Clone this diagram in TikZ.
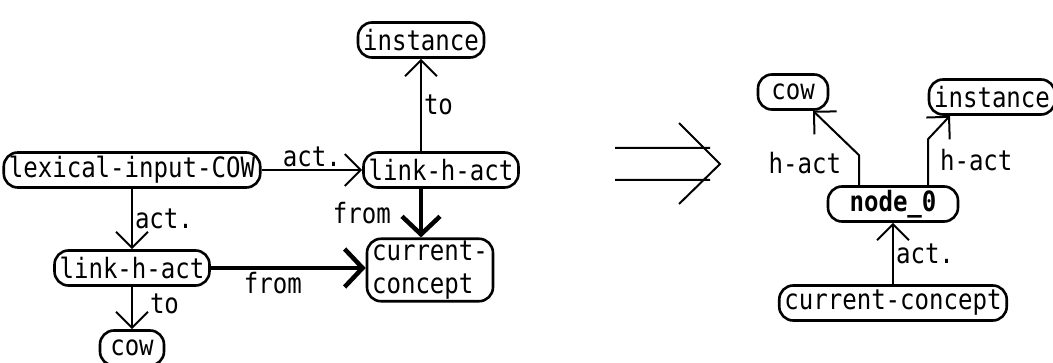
\documentclass[tikz,border=0pt]{standalone}
\usepackage{fontspec}
\newfontfamily\graphfont[FakeStretch=0.86]{DejaVu Sans Mono}
\usetikzlibrary{shapes,arrows.meta,positioning,calc}
\newcommand\labelfont{\graphfont\fontsize{28}{33}\selectfont}
\tikzset{
    block/.style={rectangle, draw, rounded corners=14pt, minimum height=35pt, inner xsep=5pt, inner ysep=2pt, font=\labelfont, line width=2.6pt},
    line/.style={draw, -{Straight Barb[length=16pt, width=32pt]}, line width=2pt},
    heavy/.style={draw, -{Straight Barb[length=18pt, width=38pt]}, line width=4.5pt},
    lbl/.style={font=\labelfont, inner sep=2pt}
}
\begin{document}
\begin{tikzpicture}[x=1pt, y=-1pt, node distance=100pt]
    \useasboundingbox (0,0) rectangle (1053,363);

    % before: left network
    \node [block] (lexical) at (132,170) {lexical-input-COW};
    \node [block, right of=lexical, node distance=309pt] (linkA) {link-h-act};
    \node [block] (instA) at (421,40) {instance};
    \node [block, align=left] (curA) at (430,270) {current-\\concept};
    \node [block, below of=lexical, node distance=98pt] (linkB) {link-h-act};
    \node [block, below of=linkB, node distance=80pt, minimum width=64pt] (cowA) {cow};

    \path [line] (lexical) -- node [lbl, above] {act.} (linkA);
    \path [line] (linkA.north -| instA) -- node [lbl, right] {to} (instA);
    \path [heavy] (linkA.south -| instA) -- node [lbl, left=26pt] {from} (curA.north -| instA);
    \path [line] (lexical) -- node [lbl, right] {act.} (linkB);
    \path [heavy] (linkB) -- node [lbl, below, pos=.4] {from} (linkB -| curA.west);
    \path [line] (linkB) -- node [lbl, right=15pt, pos=.4] {to} (cowA);

    % the big arrow
    \draw [line width=2pt] (615,148) -- (710,148) (615,180) -- (710,180) (679,123) -- (720,164) -- (679,204);

    % after: right network
    \node [block, font=\labelfont\bfseries, minimum width=130pt] (node0) at (893,204) {node\_0};
    \node [block, below of=node0, node distance=99pt] (curB) {current-concept};
    \node [block, minimum width=70pt] (cowB) at (793,92) {cow};
    \node [block] (instB) at (992,97) {instance};

    \path [line] (curB) -- node [lbl, right] {act.} (node0);
    \path [line] ([xshift=-34pt]node0.north) -- node [lbl, left=15pt, pos=.75] {h-act} ++(0,-30) -- ([xshift=20pt]cowB.south);
    \path [line] ([xshift=35pt]node0.north) -- node [lbl, right=9pt, pos=.55] {h-act} ++(0,-46) -- ([xshift=-42pt]instB.south);
\end{tikzpicture}
\end{document}
